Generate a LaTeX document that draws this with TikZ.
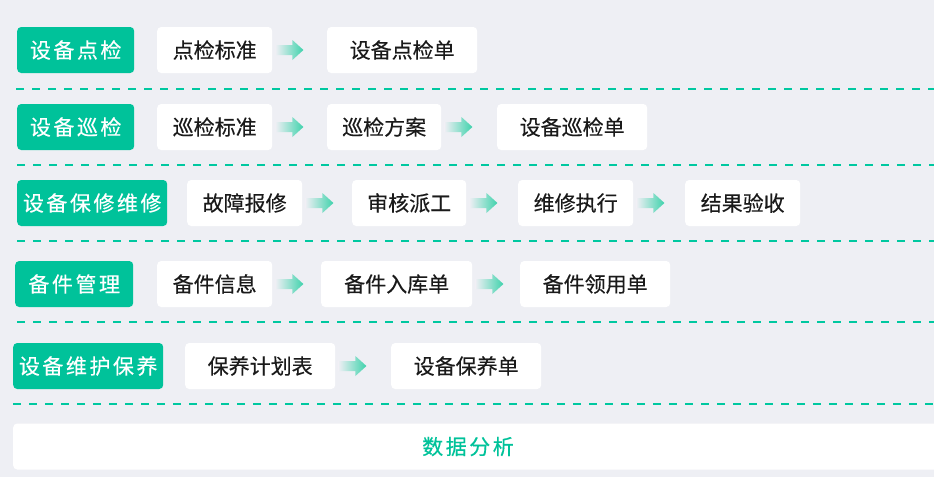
\documentclass[tikz,border=0pt]{standalone}
\usepackage{fontspec}
\usetikzlibrary{calc}
\newfontfamily\cjk[FakeBold=0.3]{Noto Sans CJK SC}
\newfontfamily\cjksp[LetterSpace=12,FakeBold=0.4]{Noto Sans CJK SC}
\definecolor{bgc}{HTML}{EEEFF4}
\definecolor{grn}{HTML}{00C29A}
\definecolor{dash}{HTML}{00C8A0}
\definecolor{arr}{HTML}{3FD2AC}
\definecolor{txt}{HTML}{1A1A1A}
\tikzset{
  catbox/.style={fill=grn, rounded corners=4pt, minimum height=46pt, inner sep=0pt,
    text=white, font=\cjksp\fontsize{21}{24}\selectfont, anchor=west},
  itembox/.style={fill=white, rounded corners=4pt, minimum height=46pt, inner sep=0pt,
    text=txt, font=\cjk\fontsize{21}{24}\selectfont, anchor=west},
  sep/.style={draw=dash, line width=1.5pt, dash pattern=on 8pt off 8pt},
  fat/.style={left color=bgc, right color=arr, draw=none}
}
\newcommand{\fatarrow}[1]{%
  \shade[fat] ($(#1.east)+(3,-5)$) -- ++(17,0) -- ++(0,-5) -- ++(11,10) -- ++(-11,10) -- ++(0,-5) -- ++(-17,0) -- cycle;}
\begin{document}
\begin{tikzpicture}[x=1pt,y=-1pt]
\fill[bgc] (0,0) rectangle (934,477);
\useasboundingbox (0,0) rectangle (934,477);

% Row 1
\node[catbox, minimum width=117pt] (c1) at (17,50) {设备点检};
\node[itembox, minimum width=115pt] (a11) at (157,50) {点检标准};
\node[itembox, minimum width=150pt] (a12) at (327,50) {设备点检单};
\fatarrow{a11}
\draw[sep] (16,89) -- (934,89);

% Row 2
\node[catbox, minimum width=117pt] (c2) at (17,127) {设备巡检};
\node[itembox, minimum width=115pt] (a21) at (157,127) {巡检标准};
\node[itembox, minimum width=114pt] (a22) at (327,127) {巡检方案};
\node[itembox, minimum width=150pt] (a23) at (497,127) {设备巡检单};
\fatarrow{a21}
\fatarrow{a22}
\draw[sep] (17,165) -- (934,165);

% Row 3
\node[catbox, minimum width=150pt] (c3) at (17,203) {设备保修维修};
\node[itembox, minimum width=115pt] (a31) at (187,203) {故障报修};
\node[itembox, minimum width=114pt] (a32) at (352,203) {审核派工};
\node[itembox, minimum width=115pt] (a33) at (518,203) {维修执行};
\node[itembox, minimum width=115pt] (a34) at (685,203) {结果验收};
\fatarrow{a31}
\fatarrow{a32}
\fatarrow{a33}
\draw[sep] (17,241) -- (934,241);

% Row 4
\node[catbox, minimum width=118pt] (c4) at (15,284) {备件管理};
\node[itembox, minimum width=115pt] (a41) at (157,284) {备件信息};
\node[itembox, minimum width=151pt] (a42) at (321,284) {备件入库单};
\node[itembox, minimum width=150pt] (a43) at (520,284) {备件领用单};
\fatarrow{a41}
\fatarrow{a42}
\draw[sep] (17,322) -- (934,322);

% Row 5
\node[catbox, minimum width=150pt] (c5) at (13,366) {设备维护保养};
\node[itembox, minimum width=150pt] (a51) at (185,366) {保养计划表};
\node[itembox, minimum width=150pt] (a52) at (391,366) {设备保养单};
\fatarrow{a51}
\draw[sep] (13,404) -- (934,404);

% Bottom
\node[fill=white, rounded corners=4pt, minimum width=925pt, minimum height=46pt, inner sep=0pt, anchor=west] (data) at (13,446.5) {};
\node[text=grn, font=\cjksp\fontsize{21}{24}\selectfont] (dt) at (468,446.5) {数据分析};
\end{tikzpicture}
\end{document}
